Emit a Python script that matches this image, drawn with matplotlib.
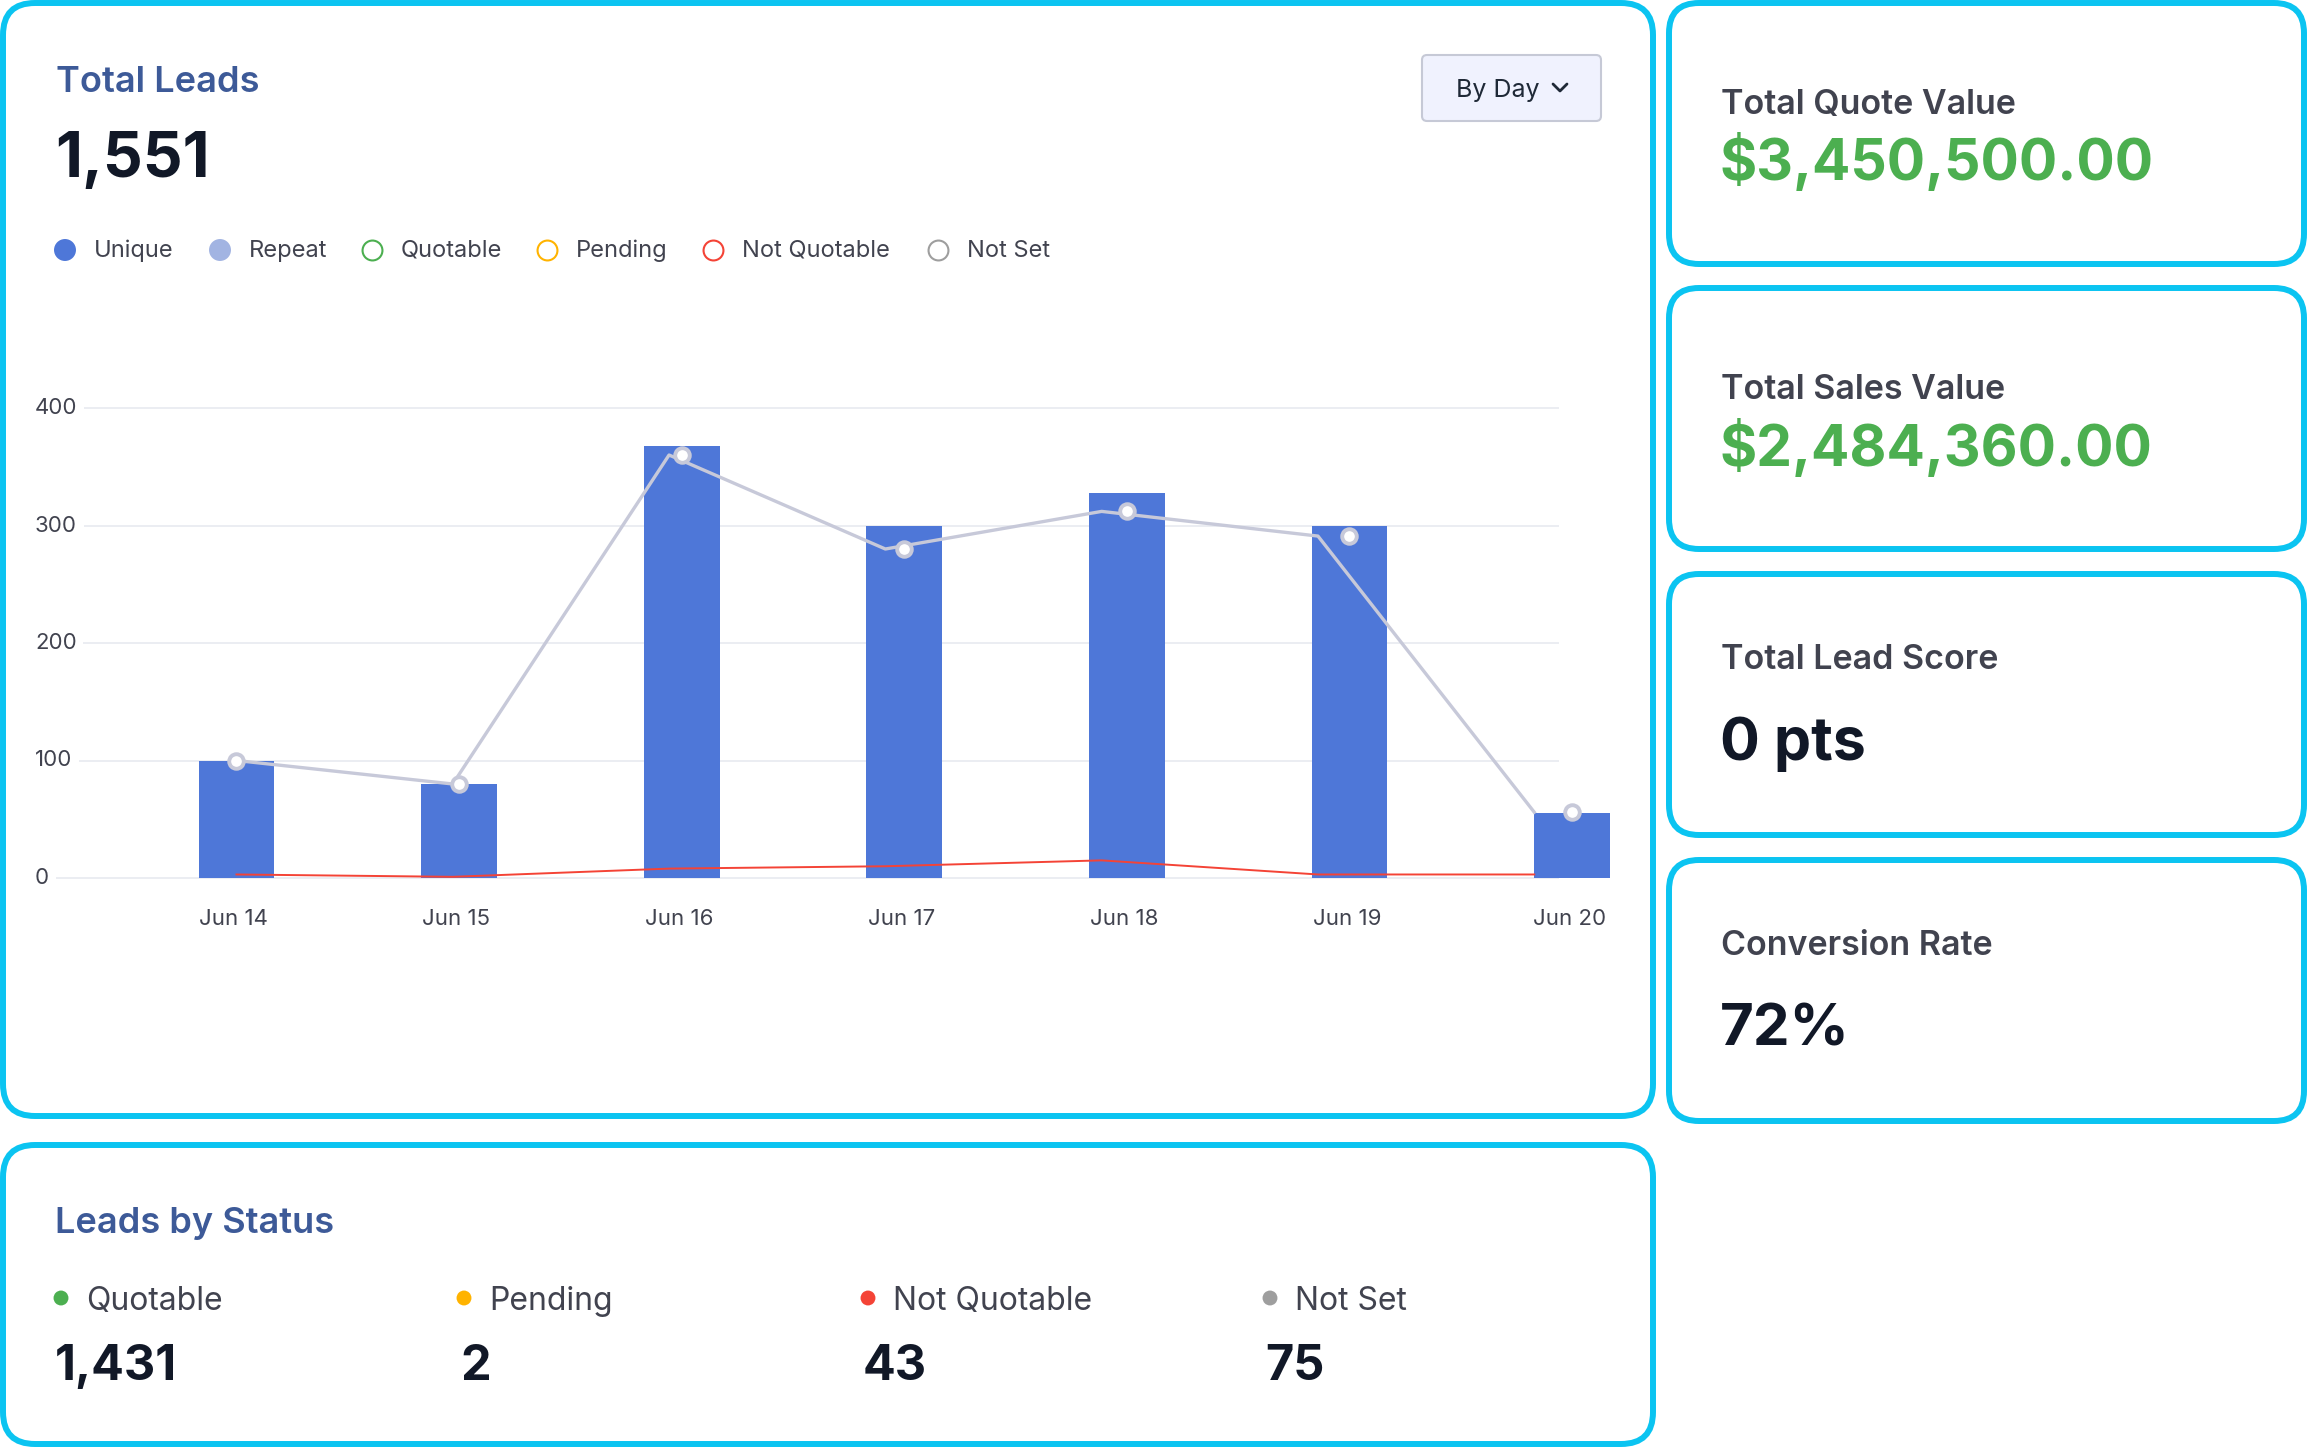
import numpy as np
import matplotlib.pyplot as plt
from matplotlib.patches import FancyBboxPatch

plt.rcParams['font.family'] = ['Inter', 'DejaVu Sans']

# chart data
days = ['Jun 14', 'Jun 15', 'Jun 16', 'Jun 17', 'Jun 18', 'Jun 19', 'Jun 20']
unique_leads = [100, 80, 368, 300, 328, 300, 55]
gray_line = [100, 80, 360, 280, 312, 291, 56]
not_quotable_line = [3, 1, 8, 10, 15, 3, 3]
y_ticks = [0, 100, 200, 300, 400]

legend_names = ['Unique', 'Repeat', 'Quotable', 'Pending', 'Not Quotable', 'Not Set']
legend_colors = ['#4e77d8', '#a2b4e2', '#4caf50', '#ffb300', '#f44336', '#9e9e9e']
legend_filled = [True, True, False, False, False, False]

total_leads = '1,551'

card_titles = ['Total Quote Value', 'Total Sales Value', 'Total Lead Score', 'Conversion Rate']
card_values = ['$3,450,500.00', '$2,484,360.00', '0 pts', '72%']
card_value_colors = ['#4caf50', '#4caf50', '#111827', '#111827']

status_names = ['Quotable', 'Pending', 'Not Quotable', 'Not Set']
status_counts = ['1,431', '2', '43', '75']
status_colors = ['#4caf50', '#ffb300', '#f44336', '#9e9e9e']

CYAN = '#0bc4f1'
BLUE = '#4e77d8'
TITLE_BLUE = '#3d5a98'
DARK = '#111827'
GREY_TXT = '#41434f'

W, H = 2308, 1448
fig = plt.figure(figsize=(W / 100, H / 100), dpi=100)
bg = fig.add_axes([0, 0, 1, 1])
bg.set_xlim(0, W)
bg.set_ylim(H, 0)
bg.axis('off')


def panel(x0, y0, x1, y1, r=30):
    bg.add_patch(FancyBboxPatch((x0, y0), x1 - x0, y1 - y0,
                                boxstyle=f'round,pad=0,rounding_size={r}',
                                fc='white', ec=CYAN, lw=4.3, zorder=0))


# panels
panel(3, 3, 1653, 1116, r=32)
panel(3, 1145, 1653, 1444, r=32)
card_boxes = [(3, 264), (288, 549), (574, 835), (860, 1121)]
for y0, y1 in card_boxes:
    panel(1669, y0, 2304, y1)

# header of main panel
bg.text(56, 92, 'Total Leads', fontsize=26, fontweight='semibold', color=TITLE_BLUE, va='baseline')
bg.text(55, 177, total_leads, fontsize=45, fontweight='bold', color=DARK, va='baseline')

# "By Day" button
bg.add_patch(FancyBboxPatch((1422, 55), 179, 66, boxstyle='round,pad=0,rounding_size=5',
                            fc='#f0f2fe', ec='#c6c9d6', lw=1.5, zorder=1))
bg.text(1456, 97, 'By Day', fontsize=18, color='#1f2937', va='baseline', zorder=2)
bg.plot([1553, 1560, 1567], [84, 91, 84], color='#1f2937', lw=2, solid_capstyle='round',
        solid_joinstyle='round', zorder=2)

# legend
leg_cx = [65, 220, 372, 547, 713, 938]
for cx, name, col, filled in zip(leg_cx, legend_names, legend_colors, legend_filled):
    if filled:
        bg.scatter(cx, 250, s=250, color=col, edgecolors='none', zorder=2)
    else:
        bg.scatter(cx, 250, s=205, facecolors='white', edgecolors=col, linewidths=1.5, zorder=2)
    bg.text(cx + 29, 251, name, fontsize=17, color=GREY_TXT, va='center', zorder=2)

# chart axes
ax_l, ax_r, ax_t, ax_b = 35, 1640, 384.5, 889.75
ax = fig.add_axes([ax_l / W, 1 - ax_b / H, (ax_r - ax_l) / W, (ax_b - ax_t) / H])
ax.patch.set_alpha(0)
ax.set_xlim(-0.905, 6.305)
ax.set_ylim(-10, 420)
for s in ax.spines.values():
    s.set_visible(False)

x = np.arange(len(days))
bar_w = 0.34
shrink = (len(days) - 1 - bar_w / 2) / (len(days) - 1)
line_x = x * shrink

ax.hlines(y_ticks, -0.82, 5.94, color='#e6e8ef', lw=1.1, zorder=0)
for t in y_ticks:
    ax.text(-0.905, t, str(t), fontsize=16, color=GREY_TXT, ha='left', va='center',
            bbox=dict(boxstyle='square,pad=0.3', fc='white', ec='none'), zorder=1)

ax.bar(x, unique_leads, width=bar_w, color=BLUE, zorder=2)
ax.plot(line_x, gray_line, color='#c7c9d9', lw=2.4, zorder=3)
ax.plot(x, gray_line, 'o', ms=10.5, mfc='white', mec='#c7c9d9', mew=2.8, zorder=4)
ax.plot(line_x, not_quotable_line, color='#f44336', lw=1.4, zorder=3)

ax.set_xticks(x - 0.012, days)
ax.set_yticks([])
ax.tick_params(axis='x', length=0, pad=14, labelsize=16, labelcolor=GREY_TXT)

# right cards
title_base = [114, 399, 669, 955]
value_base = [180, 466, 760, 1045]
value_size = [41, 41, 42.5, 42]
for i in range(4):
    bg.text(1721, title_base[i], card_titles[i], fontsize=24.5, fontweight='semibold',
            color=GREY_TXT, va='baseline')
    bg.text(1720, value_base[i], card_values[i], fontsize=value_size[i], fontweight='bold',
            color=card_value_colors[i], va='baseline')

# leads by status
bg.text(55, 1233, 'Leads by Status', fontsize=26, fontweight='semibold', color=TITLE_BLUE, va='baseline')
dot_x = [61, 464, 868, 1270]
num_x = [55, 460, 863, 1265]
for dx, nx, name, cnt, col in zip(dot_x, num_x, status_names, status_counts, status_colors):
    bg.scatter(dx, 1298, s=115, color=col, edgecolors='none', zorder=2)
    bg.text(dx + 25, 1310, name, fontsize=23, color=GREY_TXT, va='baseline')
    bg.text(nx, 1380, cnt, fontsize=35, fontweight='bold', color=DARK, va='baseline')

fig.savefig('out.png', dpi=100)
